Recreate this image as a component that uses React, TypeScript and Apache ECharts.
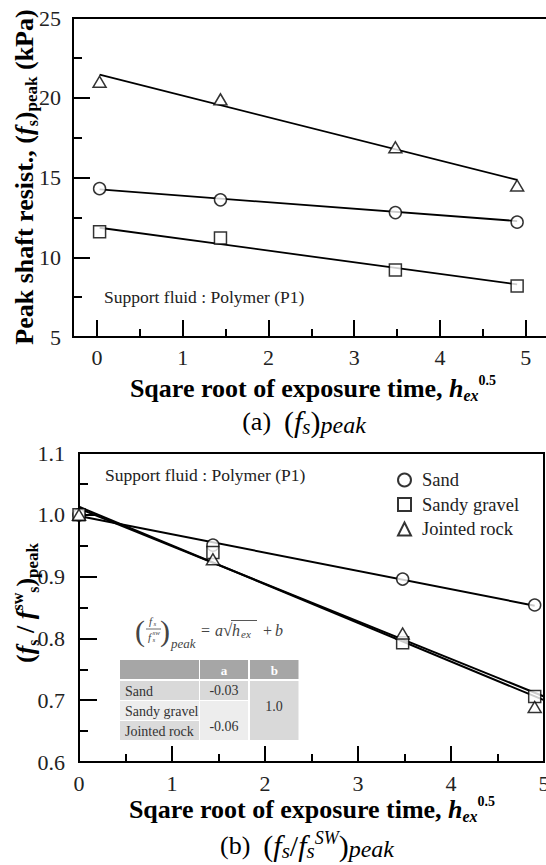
import React, { useEffect, useRef } from 'react';
import * as echarts from 'echarts';

// ---------- data ----------
const hexTop = [0.03, 1.44, 3.48, 4.9];
const sandTop = [14.3, 13.6, 12.8, 12.2];
const gravelTop = [11.6, 11.2, 9.2, 8.2];
const rockTop = [21.0, 19.9, 16.9, 14.5];
const fitXTop = [0.03, 4.9];
const sandFitTop = [14.25, 12.27];
const gravelFitTop = [11.85, 8.3];
const rockFitTop = [21.45, 14.85];

const hexBot = [0, 1.44, 3.48, 4.9];
const sandBot = [1.0, 0.951, 0.896, 0.854];
const gravelBot = [1.0, 0.939, 0.793, 0.706];
const rockBot = [1.0, 0.928, 0.808, 0.689];
const sandFitX = [0, 4.9];
const sandFitBot = [0.998, 0.853];
const steepFitX = [0, 5];
const gravelFitBot = [1.01, 0.706];
const rockFitBot = [1.013, 0.7];

const xTicksTop = [0, 1, 2, 3, 4, 5];
const xMinorTop = [0.5, 1.5, 2.5, 3.5, 4.5];
const legendNames = ['Sand', 'Sandy gravel', 'Jointed rock'];
const tableRows = ['Sand', 'Sandy gravel', 'Jointed rock'];
const tableHeader = ['a', 'b'];
const tableA = ['-0.03', '-0.06'];
const tableB = ['1.0'];
const fluidNote = 'Support fluid : Polymer (P1)';

// ---------- styling ----------
const serif = 'Liberation Serif';
const fg = '#222';
const black = '#000';

const pairs = (xs: number[], ys: number[]) => xs.map((x, i) => [x, ys[i]]);

const markerStyle = { color: '#fff', borderColor: black, borderWidth: 1.5 };

function scatter(name: string, data: number[][], symbol: string, size: any, xi: number, yi: number) {
  return {
    name, type: 'scatter', data, symbol, symbolSize: size, xAxisIndex: xi, yAxisIndex: yi,
    itemStyle: markerStyle, z: 5, silent: true,
  };
}
function fit(name: string, data: number[][], xi: number, yi: number, w = 2) {
  return {
    name, type: 'line', data, symbol: 'none', xAxisIndex: xi, yAxisIndex: yi,
    lineStyle: { color: black, width: w }, z: 3, silent: true,
  };
}
function txt(text: string, x: number, y: number, s: any = {}) {
  return {
    type: 'text', x, y, z: 20, silent: true,
    style: { text, fill: fg, fontFamily: serif, fontSize: 15, align: 'left', verticalAlign: 'middle', ...s },
  };
}

const tickLine = { color: black, width: 2 };

function buildOption() {
  const axisLabelBase = { fontFamily: serif, fontSize: 22, color: fg };

  // table layout
  const colX = [[120, 199], [200, 248], [250, 298.5]];
  const headY = [660, 679];
  const rowY = [[681, 700], [701, 720], [721, 740]];
  const rowFill = ['#d9d9d9', '#ededed', '#dbdbdb'];
  const rect = (x0: number, y0: number, x1: number, y1: number, fill: string) => ({
    type: 'rect', z: 15, silent: true, shape: { x: x0, y: y0, width: x1 - x0, height: y1 - y0 }, style: { fill },
  });
  const table: any[] = [];
  colX.forEach((c) => table.push(rect(c[0], headY[0], c[1], headY[1], '#a6a6a6')));
  tableHeader.forEach((h, i) =>
    table.push(txt(h, (colX[i + 1][0] + colX[i + 1][1]) / 2, 670, { fill: '#fff', fontWeight: 'bold', fontSize: 13, align: 'center' })));
  tableRows.forEach((r, i) => {
    table.push(rect(colX[0][0], rowY[i][0], colX[0][1], rowY[i][1], rowFill[i]));
    table.push(txt(r, 125, (rowY[i][0] + rowY[i][1]) / 2 + 1, { fontSize: 14, fill: '#333' }));
  });
  table.push(rect(colX[1][0], rowY[0][0], colX[1][1], rowY[0][1], '#d9d9d9'));
  table.push(rect(colX[1][0], rowY[1][0], colX[1][1], rowY[2][1], '#ededed'));
  table.push(rect(colX[2][0], rowY[0][0], colX[2][1], rowY[2][1], '#d9d9d9'));
  table.push(txt(tableA[0], 224, 690.5, { fontSize: 14, fill: '#333', align: 'center' }));
  table.push(txt(tableA[1], 224, 726, { fontSize: 14, fill: '#333', align: 'center' }));
  table.push(txt(tableB[0], 274, 706, { fontSize: 14, fill: '#333', align: 'center' }));

  // formula (f_s / f_s^sw)_peak = a sqrt(h_ex) + b
  const fc = '#444';
  const it = { fontStyle: 'italic', fill: fc };
  const formula: any[] = [
    txt('(', 140, 630, { fontSize: 30, fill: fc, align: 'center' }),
    txt('f', 149, 621, { ...it, fontSize: 11 }),
    txt('s', 153.5, 624, { ...it, fontSize: 7 }),
    { type: 'line', z: 20, silent: true, shape: { x1: 146, y1: 629, x2: 161, y2: 629 }, style: { stroke: fc, lineWidth: 0.8 } },
    txt('f', 148, 636.5, { ...it, fontSize: 11 }),
    txt('sw', 152.5, 633, { ...it, fontSize: 7 }),
    txt('s', 152.5, 640, { ...it, fontSize: 7 }),
    txt(')', 165, 630, { fontSize: 30, fill: fc, align: 'center' }),
    txt('peak', 171, 643, { ...it, fontSize: 13 }),
    txt('=', 201, 630, { fontSize: 16, fill: fc }),
    txt('a', 215, 630, { ...it, fontSize: 16 }),
    txt('√', 223, 630, { fontSize: 17, fill: fc }),
    { type: 'line', z: 20, silent: true, shape: { x1: 231, y1: 620.5, x2: 257, y2: 620.5 }, style: { stroke: fc, lineWidth: 0.9 } },
    txt('h', 232, 630, { ...it, fontSize: 16 }),
    txt('ex', 241, 634, { ...it, fontSize: 11 }),
    txt('+', 263, 630, { fontSize: 16, fill: fc }),
    txt('b', 275, 630, { ...it, fontSize: 16 }),
  ];

  const xTitleRich = {
    b: { fontFamily: serif, fontSize: 26, fontWeight: 'bold', color: black, lineHeight: 30 },
    bi: { fontFamily: serif, fontSize: 26, fontWeight: 'bold', fontStyle: 'italic', color: black, lineHeight: 30 },
    sub: { fontFamily: serif, fontSize: 16, fontWeight: 'bold', fontStyle: 'italic', color: black, verticalAlign: 'bottom', lineHeight: 18 },
    sup: { fontFamily: serif, fontSize: 14, fontWeight: 'bold', color: black, verticalAlign: 'top', lineHeight: 16 },
  };
  const xTitle = '{b|Sqare root of exposure time, }{bi|h}{sub|ex}{sup|0.5}';

  const yRich = {
    b: { fontFamily: serif, fontSize: 26, fontWeight: 'bold', color: black, lineHeight: 32 },
    bi: { fontFamily: serif, fontSize: 26, fontWeight: 'bold', fontStyle: 'italic', color: black, lineHeight: 32 },
    s: { fontFamily: serif, fontSize: 16, fontWeight: 'bold', color: black, verticalAlign: 'bottom', lineHeight: 18 },
    sup: { fontFamily: serif, fontSize: 16, fontWeight: 'bold', color: black, verticalAlign: 'top', lineHeight: 18 },
    p: { fontFamily: serif, fontSize: 17, fontWeight: 'bold', color: black, verticalAlign: 'bottom', lineHeight: 18 },
  };

  const capRich = {
    t: { fontFamily: serif, fontSize: 26, color: black, lineHeight: 32 },
    m: { fontFamily: serif, fontSize: 30, color: black, lineHeight: 32 },
    i: { fontFamily: serif, fontSize: 30, fontStyle: 'italic', color: black, lineHeight: 32 },
    is: { fontFamily: serif, fontSize: 21, fontStyle: 'italic', color: black, verticalAlign: 'bottom', lineHeight: 24 },
    isup: { fontFamily: serif, fontSize: 18, fontStyle: 'italic', color: black, verticalAlign: 'top', lineHeight: 22 },
    ip: { fontFamily: serif, fontSize: 24, fontStyle: 'italic', color: black, verticalAlign: 'bottom', lineHeight: 24 },
  };

  const graphic: any[] = [
    txt(fluidNote, 104, 297, { fontSize: 17.5 }),
    txt(fluidNote, 105, 475, { fontSize: 17.5 }),
    { type: 'text', x: 313, y: 388, z: 20, silent: true, style: { text: xTitle, rich: xTitleRich, fontFamily: serif, align: 'center', verticalAlign: 'middle' } },
    { type: 'text', x: 312, y: 809, z: 20, silent: true, style: { text: xTitle, rich: xTitleRich, fontFamily: serif, align: 'center', verticalAlign: 'middle' } },
    {
      type: 'text', x: 24, y: 177, rotation: Math.PI / 2, z: 20, silent: true,
      style: { text: '{b|Peak shaft resist., (}{bi|f}{s|s}{b|)}{p|peak}{b| (kPa)}', rich: yRich, fontFamily: serif, align: 'center', verticalAlign: 'middle' },
    },
    {
      type: 'text', x: 25, y: 603, rotation: Math.PI / 2, z: 20, silent: true,
      style: { text: '{b|(}{bi|f}{s|s}{b| / }{bi|f}{sup|sw}{s|s}{b|)}{p|peak}', rich: yRich, fontFamily: serif, align: 'center', verticalAlign: 'middle' },
    },
    { type: 'text', x: 304, y: 421, z: 20, silent: true, style: { text: '{t|(a)  }{m|(}{i|f}{is|s}{m|)}{ip|peak}', rich: capRich, fontFamily: serif, align: 'center', verticalAlign: 'middle' } },
    { type: 'text', x: 307, y: 845, z: 20, silent: true, style: { text: '{t|(b)  }{m|(}{i|f}{is|s}{m|/}{i|f}{is|s}{isup|SW}{m|)}{ip|peak}', rich: capRich, fontFamily: serif, align: 'center', verticalAlign: 'middle' } },
    ...table,
    ...formula,
  ];

  return {
    animation: false,
    backgroundColor: '#fff',
    textStyle: { fontFamily: serif },
    grid: [
      { left: 73, top: 18, width: 487, height: 319, show: true, borderColor: black, borderWidth: 2 },
      { left: 79, top: 453, width: 465, height: 309, show: true, borderColor: black, borderWidth: 2 },
    ],
    xAxis: [
      {
        gridIndex: 0, type: 'value', min: -0.28, max: 5.4, position: 'bottom',
        axisLine: { show: true, onZero: false, lineStyle: tickLine },
        axisTick: { show: true, inside: true, length: 17, lineStyle: tickLine, customValues: xTicksTop },
        axisLabel: { ...axisLabelBase, margin: 9, customValues: xTicksTop },
        splitLine: { show: false },
      },
      {
        gridIndex: 0, type: 'value', min: -0.28, max: 5.4, position: 'bottom',
        axisLine: { show: false, onZero: false },
        axisTick: { show: true, inside: true, length: 8, lineStyle: tickLine, customValues: xMinorTop },
        axisLabel: { show: false },
        splitLine: { show: false },
      },
      {
        gridIndex: 1, type: 'value', min: 0, max: 5, interval: 1, position: 'bottom',
        axisLine: { show: true, onZero: false, lineStyle: tickLine },
        axisTick: { show: true, inside: true, length: 16, lineStyle: tickLine },
        minorTick: { show: true, splitNumber: 2, length: 8, lineStyle: tickLine },
        axisLabel: { ...axisLabelBase, margin: 10, showMaxLabel: true },
        splitLine: { show: false },
      },
    ],
    yAxis: [
      {
        gridIndex: 0, type: 'value', min: 5, max: 25, interval: 5, position: 'left',
        axisLine: { show: true, onZero: false, lineStyle: tickLine },
        axisTick: { show: true, inside: true, length: 17, lineStyle: tickLine },
        minorTick: { show: true, splitNumber: 2, length: 9, lineStyle: tickLine },
        axisLabel: { ...axisLabelBase, margin: 12 },
        splitLine: { show: false },
      },
      {
        gridIndex: 1, type: 'value', min: 0.6, max: 1.1, interval: 0.1, position: 'left',
        axisLine: { show: true, onZero: false, lineStyle: tickLine },
        axisTick: { show: true, inside: true, length: 18, lineStyle: tickLine },
        minorTick: { show: true, splitNumber: 2, length: 9, lineStyle: tickLine },
        axisLabel: { ...axisLabelBase, margin: 14, formatter: (v: number) => v.toFixed(1) },
        splitLine: { show: false },
      },
    ],
    legend: {
      orient: 'vertical', left: 392, top: 465, itemWidth: 13, itemHeight: 13, itemGap: 4.5,
      selectedMode: false,
      textStyle: { fontFamily: serif, fontSize: 18.5, color: fg, lineHeight: 20, padding: [0, 0, 0, 6] },
      data: [
        { name: legendNames[0], icon: 'circle' },
        { name: legendNames[1], icon: 'rect' },
        { name: legendNames[2], icon: 'triangle' },
      ],
    },
    series: [
      fit('Sand fit (a)', pairs(fitXTop, sandFitTop), 0, 0, 1.8),
      fit('Sandy gravel fit (a)', pairs(fitXTop, gravelFitTop), 0, 0, 1.8),
      fit('Jointed rock fit (a)', pairs(fitXTop, rockFitTop), 0, 0, 1.8),
      scatter('Sand (a)', pairs(hexTop, sandTop), 'circle', 12, 0, 0),
      scatter('Sandy gravel (a)', pairs(hexTop, gravelTop), 'rect', 12, 0, 0),
      scatter('Jointed rock (a)', pairs(hexTop, rockTop), 'triangle', [13, 11], 0, 0),
      fit('Sand fit (b)', pairs(sandFitX, sandFitBot), 2, 1, 2),
      fit('Sandy gravel fit (b)', pairs(steepFitX, gravelFitBot), 2, 1, 2),
      fit('Jointed rock fit (b)', pairs(steepFitX, rockFitBot), 2, 1, 2),
      scatter(legendNames[0], pairs(hexBot, sandBot), 'circle', 12, 2, 1),
      scatter(legendNames[1], pairs(hexBot, gravelBot), 'rect', 12, 2, 1),
      scatter(legendNames[2], pairs(hexBot, rockBot), 'triangle', [13, 11], 2, 1),
    ],
    graphic,
  };
}

export default function App() {
  const ref = useRef<HTMLDivElement>(null);
  useEffect(() => {
    if (!ref.current) return;
    const chart = echarts.init(ref.current, undefined, { renderer: 'svg' });
    chart.setOption(buildOption() as any);
    return () => chart.dispose();
  }, []);
  return (
    <div style={{ position: 'absolute', left: 0, top: 0, width: 546, height: 865, overflow: 'hidden', background: '#fff' }}>
      <div ref={ref} style={{ width: 600, height: 865 }} />
    </div>
  );
}
